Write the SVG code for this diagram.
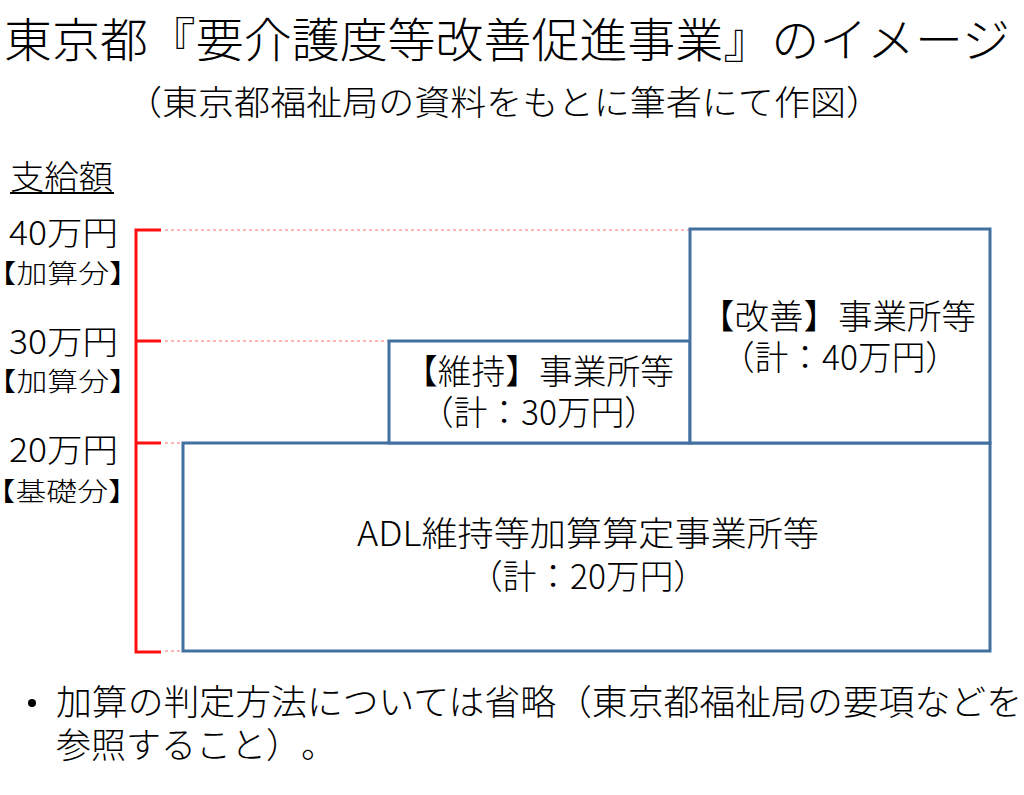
<svg xmlns="http://www.w3.org/2000/svg" width="1024" height="795" viewBox="0 0 1024 795">
<style>
text { font-family: "Noto Sans CJK JP", "Noto Sans", sans-serif; fill: #000; font-weight: 300; text-spacing-trim: space-all; }
.title { font-size: 47px; }
.sub { font-size: 34px; }
.lab { font-size: 33px; }
.tag { font-size: 26px; text-spacing-trim: trim-start; }
.box { font-size: 34px; text-anchor: middle; }
.note { font-size: 35px; }
.axis { stroke: #ff1010; stroke-width: 3; fill: none; }
.guide { stroke: #ff6a6a; stroke-width: 1; stroke-dasharray: 3 3; fill: none; }
.node { fill: #fff; stroke: #4270a0; stroke-width: 3; }
</style>
<rect width="1024" height="795" fill="#fff"/>
<g id="title">
<text class="title" x="4" y="57" textLength="1006" lengthAdjust="spacingAndGlyphs">東京都『要介護度等改善促進事業』のイメージ</text>
<text class="sub" x="126" y="115" textLength="756" lengthAdjust="spacingAndGlyphs">（東京都福祉局の資料をもとに筆者にて作図）</text>
</g>
<g id="axis-labels">
<text class="lab" x="10" y="189" textLength="103" lengthAdjust="spacingAndGlyphs">支給額</text>
<line x1="10" y1="193" x2="114" y2="193" stroke="#000" stroke-width="2"/>
<text class="lab" x="9" y="245" textLength="109" lengthAdjust="spacingAndGlyphs">40万円</text>
<text class="tag" x="1" y="283" textLength="139" lengthAdjust="spacingAndGlyphs">【加算分】</text>
<text class="lab" x="9" y="354" textLength="109" lengthAdjust="spacingAndGlyphs">30万円</text>
<text class="tag" x="1" y="391" textLength="139" lengthAdjust="spacingAndGlyphs">【加算分】</text>
<text class="lab" x="9" y="462" textLength="109" lengthAdjust="spacingAndGlyphs">20万円</text>
<text class="tag" x="0" y="501" textLength="139" lengthAdjust="spacingAndGlyphs">【基礎分】</text>
</g>
<g id="connectors">
<path class="axis" d="M161,230 H136 V652 H161 M136,341 H161 M136,443 H161"/>
<path class="guide" d="M165,230 H689 M165,341 H388 M165,443 H183 M165,651 H183"/>
</g>
<g id="node-adl">
<rect class="node" x="183" y="443" width="807" height="208"/>
<text class="box" x="588" y="546" textLength="462" lengthAdjust="spacingAndGlyphs">ADL維持等加算算定事業所等</text>
<text class="box" x="588" y="589" textLength="238" lengthAdjust="spacingAndGlyphs">（計：20万円）</text>
</g>
<g id="node-maintain">
<rect class="node" x="389" y="341" width="301" height="102"/>
<text class="box" x="539" y="384" textLength="270" lengthAdjust="spacingAndGlyphs">【維持】事業所等</text>
<text class="box" x="539" y="425" textLength="238" lengthAdjust="spacingAndGlyphs">（計：30万円）</text>
</g>
<g id="node-improve">
<rect class="node" x="690" y="229" width="300" height="214"/>
<text class="box" x="838" y="329" textLength="276" lengthAdjust="spacingAndGlyphs">【改善】事業所等</text>
<text class="box" x="840" y="370" textLength="238" lengthAdjust="spacingAndGlyphs">（計：40万円）</text>
</g>
<g id="note">
<circle cx="32" cy="703" r="4" fill="#000"/>
<text class="note" x="56" y="715" textLength="966" lengthAdjust="spacingAndGlyphs">加算の判定方法については省略（東京都福祉局の要項などを</text>
<text class="note" x="56" y="758" textLength="280" lengthAdjust="spacingAndGlyphs">参照すること）。</text>
</g>
</svg>
